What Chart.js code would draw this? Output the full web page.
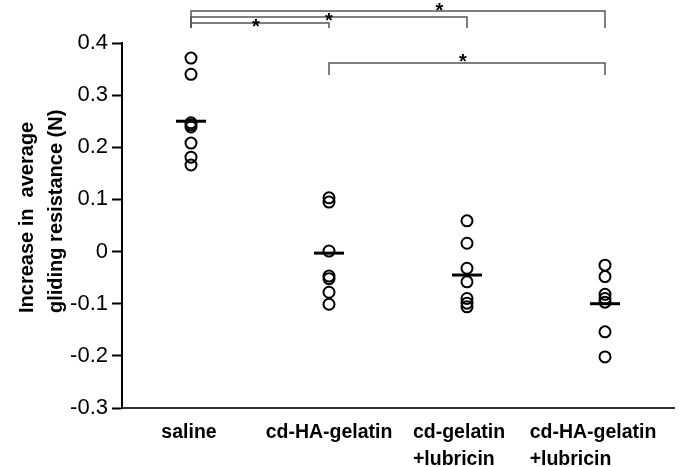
<!DOCTYPE html>
<html>
<head>
<meta charset="utf-8">
<script src="https://cdn.jsdelivr.net/npm/chart.js@4"></script>
<style>
html, body { margin: 0; padding: 0; background: #fff; }
#wrap { width: 695px; height: 467px; }
</style>
</head>
<body>
<div id="wrap"><canvas id="glidingChart"></canvas></div>
<script>
// groups on the x axis
const groups = ['saline', 'cd-HA-gelatin', 'cd-gelatin +lubricin', 'cd-HA-gelatin +lubricin'];
const groupLines = [['saline'], ['cd-HA-gelatin'], ['cd-gelatin', '+lubricin'], ['cd-HA-gelatin', '+lubricin']];

// individual values (N)
const saline = [0.371, 0.340, 0.247, 0.243, 0.239, 0.208, 0.181, 0.166];
const cdHAGelatin = [0.103, 0.095, 0.001, -0.047, -0.052, -0.078, -0.101];
const cdGelatinLubricin = [0.059, 0.016, -0.032, -0.058, -0.090, -0.099, -0.106];
const cdHAGelatinLubricin = [-0.026, -0.048, -0.082, -0.090, -0.097, -0.154, -0.202];
const groupMeans = [0.250, -0.003, -0.045, -0.100];

const yTicks = [0.4, 0.3, 0.2, 0.1, 0, -0.1, -0.2, -0.3];
const yTitle = ['Increase in  average', 'gliding resistance (N)'];

// significance brackets (group index from/to, bar level, foot level, star pos)
const bracketFrom = [0, 0, 0, 1];
const bracketTo = [3, 2, 1, 3];
const bracketLevel = [0.4614, 0.4499, 0.4384, 0.3616];
const bracketFoot = [0.4288, 0.4288, 0.4288, 0.3386];
const starAt = [1.8, 1.0, 0.47, 1.97];
const starLevel = [0.4500, 0.4310, 0.4195, 0.352];

const allGroups = [saline, cdHAGelatin, cdGelatinLubricin, cdHAGelatinLubricin];
const points = [];
allGroups.forEach((vals, i) => {
    vals.forEach(v => points.push({ x: groups[i], y: v }));
});
const meanPoints = groupMeans.map((v, i) => ({ x: groups[i], y: v }));

const FONT = "'Liberation Sans', Arial, sans-serif";

const extras = {
    id: 'extras',
    afterDraw(chart) {
        const c = chart.ctx;
        const xs = chart.scales.x;
        const ys = chart.scales.y;
        const area = chart.chartArea;

        // y axis title, two lines, left aligned
        c.save();
        c.fillStyle = '#000';
        c.font = 'bold 20px ' + FONT;
        c.textAlign = 'left';
        c.textBaseline = 'alphabetic';
        yTitle.forEach((line, i) => {
            c.save();
            c.translate(33 + i * 29, 313);
            c.rotate(-Math.PI / 2);
            c.fillText(line, 0, 0);
            c.restore();
        });
        c.restore();

        // category labels
        c.save();
        c.fillStyle = '#000';
        c.font = 'bold 19.5px ' + FONT;
        c.textAlign = 'left';
        c.textBaseline = 'alphabetic';
        const shift = [-2, 0, -8, -12];
        groupLines.forEach((lines, i) => {
            const w = Math.max(...lines.map(l => c.measureText(l).width));
            const left = xs.getPixelForValue(i) - w / 2 + shift[i];
            lines.forEach((l, j) => c.fillText(l, left, area.bottom + 30 + j * 27));
        });
        c.restore();

        // brackets and stars
        c.save();
        c.strokeStyle = '#555';
        c.lineWidth = 1.5;
        bracketFrom.forEach((from, i) => {
            const x1 = xs.getPixelForValue(from);
            const x2 = xs.getPixelForValue(bracketTo[i]);
            const yl = ys.getPixelForValue(bracketLevel[i]);
            const yf = ys.getPixelForValue(bracketFoot[i]);
            c.beginPath();
            c.moveTo(x1, yf);
            c.lineTo(x1, yl);
            c.lineTo(x2, yl);
            c.lineTo(x2, yf);
            c.stroke();
        });
        c.fillStyle = '#000';
        c.font = 'bold 20px ' + FONT;
        c.textAlign = 'center';
        c.textBaseline = 'alphabetic';
        starAt.forEach((s, i) => {
            c.fillText('*', xs.getPixelForValue(s), ys.getPixelForValue(starLevel[i]));
        });
        c.restore();
    }
};

const ctx = document.getElementById('glidingChart').getContext('2d');

const chart = new Chart(ctx, {
    type: 'line',
    data: {
        labels: groups,
        datasets: [{
            label: 'individual',
            data: points,
            showLine: false,
            pointStyle: 'circle',
            pointRadius: 5.5,
            borderColor: '#000',
            borderWidth: 2,
            backgroundColor: 'rgba(0, 0, 0, 0)'
        }, {
            label: 'mean',
            data: meanPoints,
            showLine: false,
            pointStyle: 'line',
            pointRadius: 15,
            borderColor: '#000',
            borderWidth: 3
        }]
    },
    options: {
        responsive: true,
        maintainAspectRatio: false,
        animation: false,
        layout: {
            padding: { top: 43, right: 21, bottom: 51, left: 0 }
        },
        plugins: {
            legend: { display: false },
            tooltip: { enabled: false }
        },
        scales: {
            x: {
                offset: true,
                grid: { display: false },
                ticks: { display: false },
                border: { color: '#333', width: 2 }
            },
            y: {
                min: -0.3,
                max: 0.4,
                afterFit: s => { s.width = 122; },
                afterBuildTicks: s => { s.ticks = yTicks.map(v => ({ value: v })); },
                ticks: {
                    color: '#000',
                    padding: 4,
                    font: { family: FONT, size: 22 },
                    callback: v => (Math.abs(v) < 1e-9 ? '0' : v.toFixed(1))
                },
                grid: {
                    drawOnChartArea: false,
                    tickLength: 10,
                    tickColor: '#000',
                    tickWidth: 2
                },
                border: { color: '#000', width: 2 }
            }
        }
    },
    plugins: [extras]
});
</script>
</body>
</html>
